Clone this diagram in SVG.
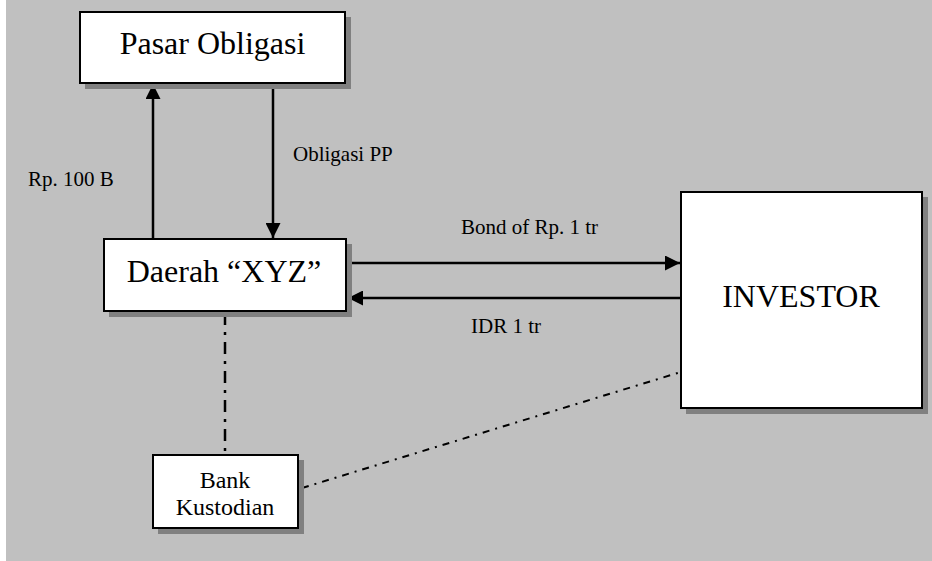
<svg xmlns="http://www.w3.org/2000/svg" width="932" height="561" viewBox="0 0 932 561">
<defs>
<marker id="ah" viewBox="0 0 15 15" refX="15" refY="7.5" markerWidth="15" markerHeight="15" markerUnits="userSpaceOnUse" orient="auto">
<path d="M0,0 L15,7.5 L0,15 Z" fill="#000"/>
</marker>
</defs>
<style>
.box{fill:#fff;stroke:#000;stroke-width:2}
.shadow{fill:#808080}
text{font-family:'Liberation Serif','Times New Roman',Times,serif;fill:#000}
.big{font-size:32px}
.mid{font-size:24px}
.lbl{font-size:21px}
.arr{stroke:#000;stroke-width:2.5;fill:none;marker-end:url(#ah)}
.dd1{stroke:#000;stroke-width:2.5;fill:none;stroke-dasharray:12 7 3 7}
.dd2{stroke:#000;stroke-width:2;fill:none;stroke-dasharray:7 6 2 6}
</style>
<rect x="6" y="0" width="926" height="561" fill="#c0c0c0"/>
<g id="connectors">
<line class="arr" x1="153" y1="239" x2="153" y2="84"/>
<line class="arr" x1="273" y1="84" x2="273" y2="238"/>
<line class="arr" x1="347" y1="263" x2="680" y2="263"/>
<line class="arr" x1="681" y1="298" x2="348" y2="298"/>
<line class="dd1" x1="225" y1="313" x2="225" y2="455"/>
<line class="dd2" x1="302" y1="488" x2="681" y2="372"/>
<text class="lbl" x="28" y="186">Rp. 100 B</text>
<text class="lbl" x="293" y="161">Obligasi PP</text>
<text class="lbl" x="461" y="234">Bond of Rp. 1 tr</text>
<text class="lbl" x="471" y="333">IDR 1 tr</text>
</g>
<g id="pasar">
<rect class="shadow" x="85" y="17" width="266" height="72"/>
<rect class="box" x="80" y="12" width="265" height="71"/>
<text class="big" x="212.5" y="54" text-anchor="middle">Pasar Obligasi</text>
</g>
<g id="daerah">
<rect class="shadow" x="109" y="244" width="243" height="73"/>
<rect class="box" x="104" y="239" width="242" height="72"/>
<text class="big" x="224" y="282" text-anchor="middle">Daerah “XYZ”</text>
</g>
<g id="investor">
<rect class="shadow" x="686" y="197" width="242" height="217"/>
<rect class="box" x="681" y="192" width="241" height="216"/>
<text class="big" x="801" y="307" text-anchor="middle">INVESTOR</text>
</g>
<g id="bank">
<rect class="shadow" x="158" y="460" width="146" height="74"/>
<rect class="box" x="153" y="455" width="145" height="73"/>
<text class="mid" x="225" y="488" text-anchor="middle">Bank</text>
<text class="mid" x="225" y="515" text-anchor="middle">Kustodian</text>
</g>
</svg>
